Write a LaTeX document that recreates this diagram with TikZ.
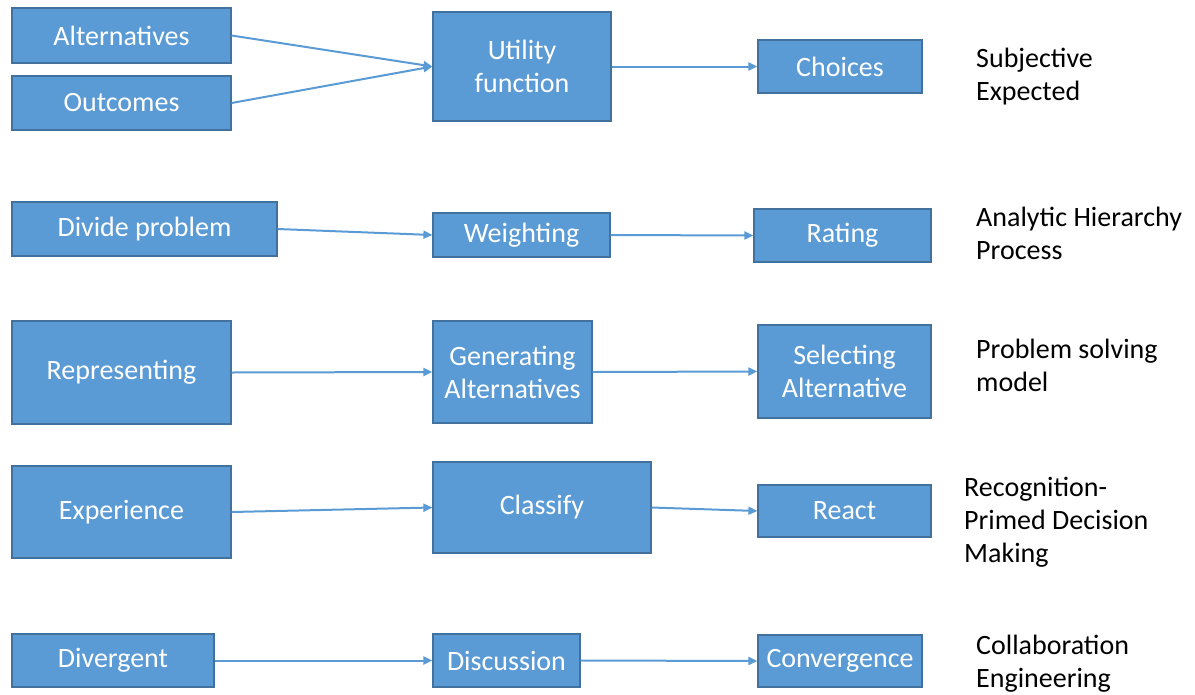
\documentclass[tikz,border=0pt]{standalone}
\usepackage{fontspec}
\setmainfont{Carlito}
\usetikzlibrary{arrows.meta}
\definecolor{boxfill}{HTML}{5B9BD5}
\definecolor{boxline}{HTML}{41719C}
\definecolor{flow}{HTML}{5B9BD5}
\begin{document}
\begin{tikzpicture}[x=1pt,y=-1pt,
  box/.style={draw=boxline, line width=1.2pt, fill=boxfill, text=white,
    inner sep=0pt, align=center, font=\fontsize{28}{33}\selectfont},
  model/.style={anchor=west, inner sep=0pt, align=left, text=black,
    font=\fontsize{28}{33}\selectfont},
  flowarrow/.style={draw=flow, line width=2pt, -{Triangle[length=9pt,width=8pt]}}]
\useasboundingbox (0,0) rectangle (1195,694);

% Subjective expected utility
\node[box, minimum width=219pt, minimum height=55pt] (alt) at (121.5,35.5) {Alternatives};
\node[box, minimum width=219pt, minimum height=54pt] (out) at (121.5,103) {Outcomes};
\node[box, minimum width=178pt, minimum height=109pt] (util) at (522,66.5) {Utility\\function};
\node[box, minimum width=164pt, minimum height=53pt] (choice) at (840,66.5) {Choices};
\node[model] (seu) at (976,77) {Subjective\\Expected};

% Analytic hierarchy process
\node[box, minimum width=265pt, minimum height=54pt] (divide) at (144.5,229) {Divide problem};
\node[box, minimum width=177pt, minimum height=44pt] (weight) at (521.5,235) {Weighting};
\node[box, minimum width=177pt, minimum height=53pt] (rating) at (842.5,235.5) {Rating};
\node[model] (ahp) at (976,233) {Analytic Hierarchy\\Process};

% Problem solving model
\node[box, minimum width=219pt, minimum height=103pt] (repr) at (121.5,372.5) {Representing};
\node[box, minimum width=159pt, minimum height=102pt] (gen) at (512.5,372) {Generating\\Alternatives};
\node[box, minimum width=173pt, minimum height=93pt] (sel) at (844.5,371.5) {Selecting\\Alternative};
\node[model] (psm) at (976,365.5) {Problem solving\\model};

% Recognition-primed decision making
\node[box, minimum width=219pt, minimum height=92pt] (exp) at (121.5,512) {Experience};
\node[box, minimum width=218pt, minimum height=91pt] (cls) at (542,507.5) {Classify};
\node[box, minimum width=173pt, minimum height=52pt] (react) at (844.5,511) {React};
\node[model] (rpd) at (964,522) {Recognition-\\Primed Decision\\Making};

% Collaboration engineering
\node[box, minimum width=202pt, minimum height=53pt] (div) at (113,660.5) {Divergent};
\node[box, minimum width=147pt, minimum height=53pt] (disc) at (506.5,660.5) {Discussion};
\node[box, minimum width=164pt, minimum height=52pt] (conv) at (840,661) {Convergence};
\node[model] (ce) at (976,664) {Collaboration\\Engineering};

% Connectors
\draw[flowarrow] (alt.east) -- (util.west);
\draw[flowarrow] (out.east) -- (util.west);
\draw[flowarrow] (util.east) -- (choice.west);
\draw[flowarrow] (divide.east) -- (weight.west);
\draw[flowarrow] (weight.east) -- (rating.west);
\draw[flowarrow] (repr.east) -- (gen.west);
\draw[flowarrow] (gen.east) -- (sel.west);
\draw[flowarrow] (exp.east) -- (cls.west);
\draw[flowarrow] (cls.east) -- (react.west);
\draw[flowarrow] (div.east) -- (disc.west);
\draw[flowarrow] (disc.east) -- (conv.west);
\end{tikzpicture}
\end{document}
